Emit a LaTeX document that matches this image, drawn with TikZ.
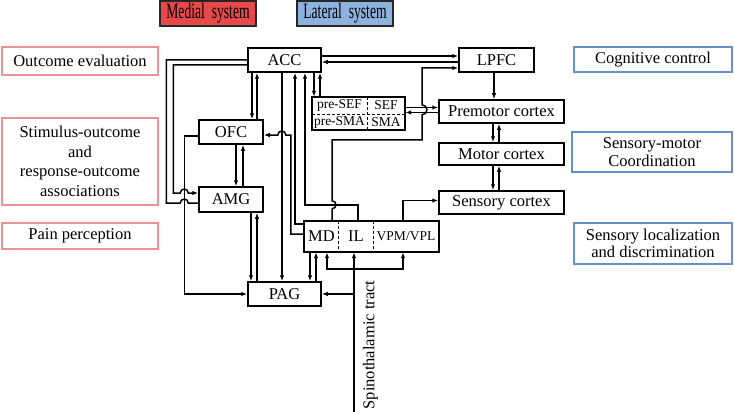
\documentclass[tikz,border=0pt]{standalone}
\usepackage{fontspec}
\setmainfont{Liberation Serif}
\usepackage{tikz}
\usetikzlibrary{arrows.meta}
\definecolor{medred}{RGB}{232,72,74}
\definecolor{latblue}{RGB}{141,178,222}
\definecolor{pinkline}{RGB}{234,146,150}
\definecolor{blueline}{RGB}{104,144,200}

\tikzset{
  region/.style={draw, line width=1.5pt, inner sep=0pt, font=\fontsize{16.5}{19}\selectfont},
  cell/.style={inner sep=0pt, font=\fontsize{13.5}{15}\selectfont},
  func/.style={draw=pinkline, line width=1.4pt, inner sep=0pt, align=center, font=\fontsize{16.5}{19.5}\selectfont},
  funcb/.style={func, draw=blueline, font=\fontsize{16.5}{17.5}\selectfont},
  hdr/.style={draw=black!85, line width=1.4pt, inner sep=0pt, minimum width=96pt, minimum height=25pt, font=\fontsize{22}{24}\selectfont},
  wire/.style={line width=1.5pt},
  conn/.style={wire, -{Latex[length=6pt,width=4.5pt]}},
  split/.style={line width=1pt, dash pattern=on 3pt off 2pt}
}

\begin{document}
\begin{tikzpicture}[x=1pt,y=1pt]
\useasboundingbox (0,0) rectangle (734,-412);

\node[hdr, fill=medred] (medial) at (208,-13.5) {\scalebox{0.62}[1]{Medial\ \ system}};
\node[hdr, fill=latblue] (lateral) at (345,-13.5) {\scalebox{0.62}[1]{Lateral\ \ system}};

\node[func, minimum width=156pt, minimum height=28pt] (outcome) at (80,-61) {Outcome evaluation};
\node[func, minimum width=156pt, minimum height=87pt] (stimresp) at (80,-161.5) {Stimulus-outcome\\and\\response-outcome\\associations};
\node[func, minimum width=156pt, minimum height=26pt] (pain) at (80,-236) {Pain perception};
\node[funcb, minimum width=158pt, minimum height=25pt] (cogctrl) at (653,-59.5) {Cognitive control};
\node[funcb, minimum width=160pt, minimum height=40pt] (sensmot) at (652,-152) {Sensory-motor\\Coordination};
\node[funcb, minimum width=158pt, minimum height=41pt] (sensloc) at (653,-243.5) {Sensory localization\\and discrimination};

\node[region, minimum width=73pt, minimum height=24pt] (ACC) at (284.5,-60) {ACC};
\node[region, minimum width=75pt, minimum height=24pt] (LPFC) at (496.5,-60) {LPFC};
\node[region, minimum width=125pt, minimum height=23pt] (premotor) at (501.5,-111.5) {Premotor cortex};
\node[region, minimum width=125pt, minimum height=22pt] (motor) at (501.5,-154) {Motor cortex};
\node[region, minimum width=125pt, minimum height=23pt] (sensory) at (501.5,-202.5) {Sensory cortex};
\node[region, minimum width=64pt, minimum height=24pt] (OFC) at (231,-132) {OFC};
\node[region, minimum width=64pt, minimum height=25pt] (AMG) at (231,-199.5) {AMG};
\node[region, minimum width=73pt, minimum height=24pt] (PAG) at (284.5,-294) {PAG};

\node[cell, minimum width=55pt, minimum height=17pt] (preSEF) at (339.5,-105.5) {pre-SEF};
\node[cell, minimum width=38pt, minimum height=17pt] (SEF) at (386,-105.5) {SEF};
\node[cell, minimum width=55pt, minimum height=16pt] (preSMA) at (339.5,-122) {pre-SMA};
\node[cell, minimum width=38pt, minimum height=16pt] (SMA) at (386,-122) {SMA};
\draw[wire] (preSEF.north west) rectangle (SMA.south east);
\draw[split] (preSEF.north east) -- (preSMA.south east);
\draw[split] (preSEF.south west) -- (SEF.south east);

\node[cell, minimum width=35pt, minimum height=31pt, font=\fontsize{16.5}{19}\selectfont] (MD) at (321.5,-236.5) {MD};
\node[cell, minimum width=34pt, minimum height=31pt, font=\fontsize{16.5}{19}\selectfont] (IL) at (356,-236.5) {IL};
\node[cell, minimum width=66pt, minimum height=31pt] (VPM) at (406,-236.5) {VPM/VPL};
\draw[wire] (MD.north west) rectangle (VPM.south east);
\draw[split] (IL.north west) -- (IL.south west);
\draw[split] (IL.north east) -- (IL.south east);

\coordinate (spine) at (354,-412);
\coordinate (fork) at (354,-269);
\coordinate (tap) at (354,-294);
\node[rotate=90, inner sep=0pt, font=\fontsize{16.5}{19}\selectfont] (tract) at (370.5,-345) {Spinothalamic tract};

\draw[conn] ([yshift=4pt]ACC.east) -- ([yshift=4pt]ACC.east -| LPFC.west);
\draw[conn] ([yshift=-2pt]LPFC.west) -- ([yshift=-2pt]LPFC.west -| ACC.east);
\draw[conn] ([xshift=10.5pt]MD.north) -- ++(0,12) arc[start angle=-90,end angle=90,radius=4pt]
  -- ++(0,61) -- ++(90,0) -- ++(0,25) arc[start angle=-90,end angle=90,radius=5pt]
  |- ([yshift=-8pt]LPFC.west);
\draw[conn] ([xshift=2pt]IL.north) -- ++(0,16) -| ([xshift=20.5pt]ACC.south);
\draw[conn] ([yshift=12.5pt]MD.west) -| ([xshift=10.5pt]ACC.south);
\draw[conn] ([yshift=2.5pt]MD.west) -| ++(-13,99) -- ++(-5,0)
  arc[start angle=0,end angle=180,radius=4pt] -- ([yshift=-3pt]OFC.east);
\draw[conn] ([xshift=-2.5pt]ACC.south) -- ([xshift=-2.5pt]PAG.north);

\draw[conn] ([xshift=-32.5pt]ACC.south) -- ([xshift=-32.5pt]ACC.south |- OFC.north);
\draw[conn] ([xshift=26pt]OFC.north) -- ([xshift=26pt]OFC.north |- ACC.south);
\draw[conn] ([xshift=29.5pt]ACC.south) -- ([xshift=29.5pt]ACC.south |- preSEF.north);
\draw[conn] ([xshift=-19.5pt]preSEF.north) -- ([xshift=-19.5pt]preSEF.north |- ACC.south);
\draw[conn] ([yshift=-2pt]SEF.east) -- ([yshift=-2pt]SEF.east -| premotor.west);
\draw[conn] ([yshift=-1pt]premotor.west) -- ([yshift=-1pt]premotor.west -| SEF.east);

\draw[conn] ([xshift=5pt]OFC.south) -- ([xshift=5pt]OFC.south |- AMG.north);
\draw[conn] ([xshift=12pt]AMG.north) -- ([xshift=12pt]AMG.north |- OFC.south);
\draw[conn] ([xshift=20pt]AMG.south) -- ([xshift=20pt]AMG.south |- PAG.north);
\draw[conn] ([xshift=-27.5pt]PAG.north) -- ([xshift=-27.5pt]PAG.north |- AMG.south);
\draw[conn] ([yshift=-4pt]OFC.west) -| ([xshift=-63pt]PAG.west) -- (PAG.west);

\draw[wire] (ACC.west) -| ++(-81,-143) -- ++(14,0)
  arc[start angle=180,end angle=0,radius=4pt] -- ([yshift=-3.5pt]AMG.west);
\draw[conn] ([yshift=-5pt]ACC.west) -| ++(-74,-128) -- ++(7,0)
  arc[start angle=180,end angle=0,radius=4pt] -- ([yshift=6.5pt]AMG.west);

\draw[conn] ([xshift=-11.5pt]MD.south) -- ([xshift=-11.5pt]MD.south |- PAG.north);
\draw[conn] ([xshift=31.5pt]PAG.north) -- ([xshift=31.5pt]PAG.north |- MD.south);
\draw[conn] ([xshift=-3pt]VPM.north) |- ([yshift=2pt]sensory.west);

\draw[conn] (spine) -- (spine |- IL.south);
\draw[conn] (fork) -| ([xshift=5.5pt]MD.south);
\draw[conn] (fork) -| ([xshift=-3pt]VPM.south);
\draw[conn] (tap) -- (tap -| PAG.east);

\draw[conn] ([xshift=-2.5pt]LPFC.south) -- ([xshift=-2.5pt]LPFC.south |- premotor.north);
\foreach \src/\dst in {premotor/motor, motor/sensory}{
  \draw[conn] ([xshift=-8.5pt]\src.south) -- ([xshift=-8.5pt]\src.south |- \dst.north);
  \draw[conn] ([xshift=-2.5pt]\dst.north) -- ([xshift=-2.5pt]\dst.north |- \src.south);
}

\end{tikzpicture}
\end{document}
